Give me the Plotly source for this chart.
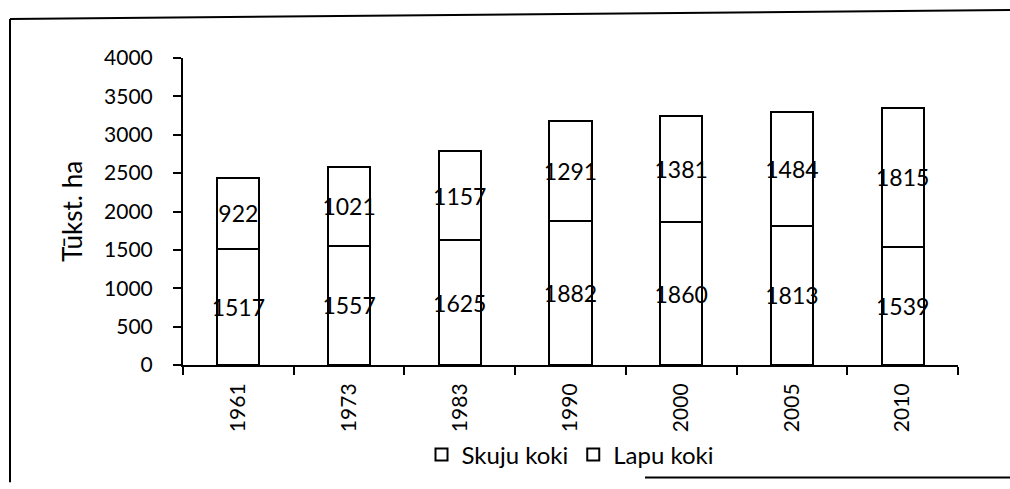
import plotly.graph_objects as go

years = ["1961", "1973", "1983", "1990", "2000", "2005", "2010"]
skuju_koki = [1517, 1557, 1625, 1882, 1860, 1813, 1539]
lapu_koki = [922, 1021, 1157, 1291, 1381, 1484, 1815]
y_ticks = [0, 500, 1000, 1500, 2000, 2500, 3000, 3500, 4000]

font_name = "Lato"

# plot area: x 183..958, y 58..372 (px)
def px_x(v):
    return (v - 183) / 775


def px_y(v):
    return (372 - v) / 314


fig = go.Figure()
for name, vals in [("Skuju koki", skuju_koki), ("Lapu koki", lapu_koki)]:
    fig.add_trace(go.Bar(
        x=years,
        y=vals,
        name=name,
        width=0.38,
        marker=dict(color="white", line=dict(color="black", width=2)),
        text=vals,
        textposition="inside",
        insidetextanchor="middle",
        textangle=0,
        textfont=dict(family=font_name, size=23, color="black"),
        constraintext="none",
    ))

frame = dict(type="line", xref="paper", yref="paper", line=dict(color="black", width=2))
fig.update_layout(
    barmode="stack",
    width=1010,
    height=489,
    margin=dict(l=183, r=52, t=58, b=117),
    paper_bgcolor="white",
    plot_bgcolor="white",
    font=dict(family=font_name, size=21, color="black"),
    showlegend=True,
    legend=dict(
        orientation="h",
        x=0.5,
        xanchor="center",
        y=-0.293,
        yanchor="middle",
        font=dict(size=24),
        bgcolor="rgba(0,0,0,0)",
        itemwidth=30,
        traceorder="normal",
    ),
    # frame round the chart (scanned page, slightly skewed)
    shapes=[
        dict(frame, x0=px_x(10), x1=px_x(1012), y0=px_y(18), y1=px_y(9)),
        dict(frame, x0=px_x(10), x1=px_x(10), y0=px_y(18), y1=px_y(492)),
        dict(frame, x0=px_x(645), x1=px_x(1012), y0=px_y(487), y1=px_y(487)),
    ],
)

fig.update_xaxes(
    type="category",
    automargin=False,
    showline=True,
    linecolor="black",
    linewidth=2,
    ticks="outside",
    tickson="boundaries",
    ticklen=8,
    tickwidth=2,
    tickcolor="black",
    tickangle=-90,
    ticklabelstandoff=8,
    tickfont=dict(size=21),
    showgrid=False,
)
fig.update_yaxes(
    range=[0, 4000],
    tickvals=y_ticks,
    automargin=False,
    showline=True,
    linecolor="black",
    linewidth=2,
    ticks="outside",
    ticklen=8,
    tickwidth=2,
    tickcolor="black",
    ticklabelstandoff=16,
    showgrid=False,
    zeroline=False,
    tickfont=dict(size=21),
    title=dict(text="Tūkst. ha", font=dict(size=26), standoff=14),
)

# drop the default body margin so the figure sits at the window origin
fig.write_html(
    "out.html",
    config={"displayModeBar": False},
    post_script="document.body.style.margin='0';",
)
